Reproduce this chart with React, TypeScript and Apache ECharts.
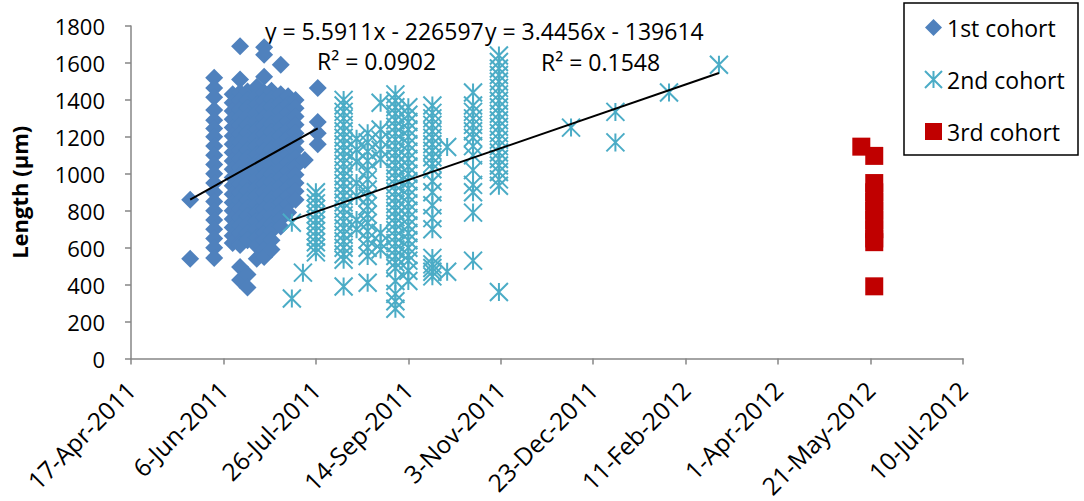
import React, { useEffect, useRef } from 'react';
import * as echarts from 'echarts';

// X axis: Excel date serials (17-Apr-2011 = 40650), ticks every 50 days
const xStart = 40650;
const xEnd = 41100;
const xStep = 50;
const xTickLabels = [
  '17-Apr-2011', '6-Jun-2011', '26-Jul-2011', '14-Sep-2011', '3-Nov-2011',
  '23-Dec-2011', '11-Feb-2012', '1-Apr-2012', '21-May-2012', '10-Jul-2012',
];
const yMin = 0;
const yMax = 1800;
const yStep = 200;
const yAxisTitle = 'Length (µm)';

const seriesNames = ['1st cohort', '2nd cohort', '3rd cohort'];

// 1st cohort: sampling dates (Excel serial) and lengths measured on each date
const cohort1Dates = [40682, 40695, 40705, 40709, 40713, 40718, 40722, 40726, 40731, 40735, 40739, 40744, 40751];
const cohort1Lengths = [
  [860, 540],
  [1520, 1465, 1415, 1345, 1290, 1245, 1200, 1150, 1100, 1050, 1000, 950, 900, 850, 800, 750, 700, 650, 600, 545],
  [1430, 1385, 1340, 1295, 1250, 1205, 1160, 1115, 1070, 1025, 980, 935, 890, 845, 800, 755, 710, 665, 625],
  [1690, 1510, 1440, 1395, 1350, 1305, 1260, 1215, 1170, 1125, 1080, 1035, 990, 945, 900, 855, 810, 765, 720, 675, 630, 615, 495, 425],
  [1445, 1400, 1355, 1310, 1265, 1220, 1175, 1130, 1085, 1040, 995, 950, 905, 860, 815, 770, 725, 680, 640, 455, 385],
  [1470, 1420, 1375, 1330, 1285, 1240, 1195, 1150, 1105, 1060, 1015, 970, 925, 880, 835, 790, 745, 700, 655, 610, 540],
  [1685, 1645, 1525, 1440, 1395, 1350, 1305, 1260, 1215, 1170, 1125, 1080, 1035, 990, 945, 900, 855, 810, 765, 720, 680, 640, 590, 550],
  [1450, 1405, 1360, 1315, 1270, 1225, 1180, 1135, 1090, 1045, 1000, 955, 910, 865, 820, 775, 730, 690, 640, 590],
  [1590, 1430, 1385, 1340, 1295, 1250, 1205, 1160, 1115, 1070, 1025, 980, 935, 890, 845, 800, 755, 715],
  [1420, 1375, 1330, 1285, 1240, 1195, 1150, 1105, 1060, 1015, 970, 925, 880, 835, 790],
  [1400, 1355, 1310, 1265, 1220, 1175, 1130, 1085, 1040, 995, 950, 905, 860],
  [1075],
  [1465, 1280, 1220, 1160],
];

// 2nd cohort
const cohort2Dates = [40737, 40743, 40750, 40765, 40772, 40778, 40785, 40793, 40800, 40813, 40821, 40835, 40849, 40888, 40912, 40941, 40968];
const cohort2Lengths = [
  [735, 325],
  [465],
  [900, 870, 840, 810, 780, 750, 720, 690, 660, 630, 600, 575],
  [1400, 1370, 1335, 1300, 1265, 1230, 1195, 1160, 1125, 1090, 1055, 1020, 985, 950, 915, 880, 845, 810, 775, 740, 705, 670, 635, 600, 565, 535, 390],
  [1190, 1130, 1065, 950, 880, 750, 700],
  [1220, 1170, 1120, 1070, 1020, 970, 915, 870, 825, 780, 735, 690, 645, 600, 555, 410],
  [1385, 1240, 1185, 1130, 1080, 680, 625, 590],
  [1430, 1395, 1360, 1325, 1290, 1255, 1220, 1185, 1150, 1115, 1080, 1045, 1010, 975, 940, 905, 870, 835, 800, 765, 730, 695, 660, 625, 590, 555, 520, 490, 420, 350, 310, 270],
  [1360, 1320, 1280, 1240, 1200, 1160, 1120, 1080, 1040, 1000, 960, 920, 880, 840, 800, 760, 720, 680, 640, 600, 560, 530, 475, 420],
  [1370, 1330, 1300, 1265, 1230, 1195, 1160, 1125, 1090, 1055, 1025, 960, 900, 830, 760, 700, 545, 510, 490, 470, 445],
  [1145, 470],
  [1440, 1370, 1335, 1300, 1265, 1230, 1195, 1150, 1100, 1020, 940, 900, 790, 530],
  [1640, 1605, 1570, 1535, 1500, 1465, 1430, 1395, 1360, 1325, 1290, 1255, 1220, 1185, 1150, 1115, 1080, 1045, 1010, 970, 935, 360],
  [1250],
  [1335, 1170],
  [1440],
  [1590],
];

// 3rd cohort
const cohort3Dates = [41045, 41052];
const cohort3Lengths = [
  [1147],
  [1097, 950, 900, 850, 800, 750, 700, 650, 630, 391],
];

// Linear trendlines (Excel): y = slope * x + intercept
const trendSlopes = [5.5911, 3.4456];
const trendIntercepts = [-226597, -139614];
const trendEquations = ['y = 5.5911x - 226597', 'y = 3.4456x - 139614'];
const trendR2 = ['R² = 0.0902', 'R² = 0.1548'];

const FONT = "'Open Sans', sans-serif";
const BLUE = '#4F81BD';
const TEAL = '#4BACC6';
const RED = '#C00000';
const AXIS = '#868686';

function toPoints(dates: number[], lengths: number[][]) {
  const pts: number[][] = [];
  dates.forEach((d, i) => lengths[i].forEach((v) => pts.push([d, v])));
  return pts;
}

function trend(dates: number[], k: number) {
  const lo = Math.min(...dates);
  const hi = Math.max(...dates);
  return [
    [lo, trendSlopes[k] * lo + trendIntercepts[k]],
    [hi, trendSlopes[k] * hi + trendIntercepts[k]],
  ];
}

export default function App() {
  const ref = useRef<HTMLDivElement>(null);
  useEffect(() => {
    if (!ref.current) return;
    const chart = echarts.init(ref.current, undefined, { renderer: 'svg' });
    const textStyle = { fontFamily: FONT, fontSize: 23, color: '#000' };
    chart.setOption({
      animation: false,
      backgroundColor: '#fff',
      grid: { left: 131, right: 121, top: 26, bottom: 142, containLabel: false },
      xAxis: {
        type: 'value',
        min: xStart,
        max: xEnd,
        interval: xStep,
        splitLine: { show: false },
        axisLine: { show: true, lineStyle: { color: AXIS, width: 1.5 } },
        axisTick: { show: true, length: 6, lineStyle: { color: AXIS, width: 1.5 } },
        axisLabel: {
          rotate: 45,
          margin: 27,
          fontFamily: FONT,
          fontSize: 24.5,
          color: '#000',
          formatter: (v: number) => xTickLabels[Math.round((v - xStart) / xStep)] ?? '',
        },
      },
      yAxis: {
        type: 'value',
        min: yMin,
        max: yMax,
        interval: yStep,
        name: yAxisTitle,
        nameLocation: 'middle',
        nameRotate: 90,
        nameGap: 101,
        nameTextStyle: { fontFamily: FONT, fontSize: 22, fontWeight: 'bold', color: '#000' },
        splitLine: { show: false },
        axisLine: { show: true, lineStyle: { color: AXIS, width: 1.5 } },
        axisTick: { show: true, length: 6, lineStyle: { color: AXIS, width: 1.5 } },
        axisLabel: {
          margin: 26,
          fontFamily: FONT,
          fontSize: 22,
          color: '#000',
          formatter: (v: number) => String(v),
        },
      },
      legend: {
        data: seriesNames,
        orient: 'vertical',
        left: 919,
        top: 11,
        itemWidth: 17,
        itemHeight: 17,
        itemGap: 29,
        textStyle: { ...textStyle, lineHeight: 22, padding: [0, 0, 0, 0] },
      },
      graphic: [
        {
          type: 'rect',
          shape: { x: 904, y: 3, width: 174, height: 152 },
          style: { fill: 'none', stroke: '#000', lineWidth: 1.5 },
          z: 0,
        },
        { type: 'text', x: 265, y: 31, style: { text: trendEquations[0], ...textStyle, fill: '#000', align: 'left', verticalAlign: 'middle' } },
        { type: 'text', x: 485, y: 31, style: { text: trendEquations[1], ...textStyle, fill: '#000', align: 'left', verticalAlign: 'middle' } },
        { type: 'text', x: 317, y: 61, style: { text: trendR2[0], ...textStyle, fill: '#000', align: 'left', verticalAlign: 'middle' } },
        { type: 'text', x: 541, y: 62, style: { text: trendR2[1], ...textStyle, fill: '#000', align: 'left', verticalAlign: 'middle' } },
      ],
      series: [
        {
          name: seriesNames[0],
          type: 'scatter',
          symbol: 'diamond',
          symbolSize: 18,
          itemStyle: { color: BLUE, opacity: 1 },
          data: toPoints(cohort1Dates, cohort1Lengths),
          z: 2,
        },
        {
          name: seriesNames[1],
          type: 'scatter',
          symbol: 'path://M0 0L20 20M20 0L0 20M10 0L10 20',
          symbolSize: 18,
          itemStyle: { color: TEAL, borderColor: TEAL, borderWidth: 2, opacity: 1 },
          data: toPoints(cohort2Dates, cohort2Lengths),
          z: 3,
        },
        {
          name: seriesNames[2],
          type: 'scatter',
          symbol: 'rect',
          symbolSize: 18,
          itemStyle: { color: RED, opacity: 1 },
          data: toPoints(cohort3Dates, cohort3Lengths),
          z: 4,
        },
        {
          type: 'line',
          data: trend(cohort1Dates, 0),
          symbol: 'none',
          lineStyle: { color: '#000', width: 2 },
          z: 5,
          silent: true,
        },
        {
          type: 'line',
          data: trend(cohort2Dates, 1),
          symbol: 'none',
          lineStyle: { color: '#000', width: 2 },
          z: 5,
          silent: true,
        },
      ],
    });
    return () => chart.dispose();
  }, []);
  return <div ref={ref} style={{ position: 'fixed', left: 0, top: 0, width: 1084, height: 501 }} />;
}
